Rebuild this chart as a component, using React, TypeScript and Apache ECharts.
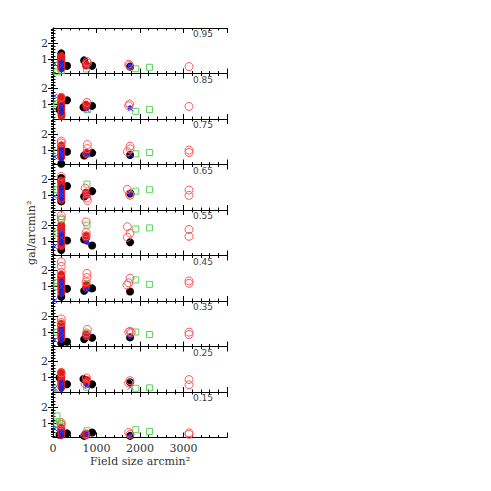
import React, { useEffect, useRef } from "react";
import * as echarts from "echarts";

const panelLabels = ["0.95", "0.85", "0.75", "0.65", "0.55", "0.45", "0.35", "0.25", "0.15"];
const xTickLabels = [0, 1000, 2000, 3000];
const yTickLabels = [1, 2];
const xTitle = "Field size arcmin\u00b2";
const yTitle = "gal/arcmin\u00b2";

type P = [number, number][];

const blackPts: P[] = [
  [[190, 1.36], [190, 1.14], [323, 0.58], [716, 0.92], [900, 0.58], [1771, 0.53], [200, 0.6]],
  [[323, 1.27], [150, 0.7], [700, 0.84], [900, 0.92]],
  [[190, 0.15], [323, 0.9], [716, 0.66], [900, 0.83], [1771, 0.7]],
  [[190, 2.1], [323, 1.6], [190, 0.64], [716, 0.95], [900, 1.28], [1780, 1.13]],
  [[323, 1.04], [190, 0.45], [716, 1.1], [900, 0.73], [1771, 0.93]],
  [[323, 0.87], [190, 0.37], [716, 0.74], [900, 0.89], [1771, 0.7]],
  [[323, 0.4], [190, 0.3], [716, 0.56], [900, 0.65], [1771, 0.67]],
  [[150, 1.01], [323, 0.59], [700, 0.91], [900, 0.58], [1771, 0.71]],
  [[323, 0.36], [150, 0.27], [716, 0.2], [900, 0.41], [1771, 0.2]],
];

const redFillPts: P[] = [
  [[190, 1.2], [190, 1.05], [190, 0.9], [190, 0.75], [190, 0.6], [195, 0.45], [750, 0.7], [760, 0.6]],
  [[190, 1.48], [190, 1.3], [190, 1.15], [190, 1.0], [190, 0.85], [190, 0.7], [190, 0.5], [195, 0.32], [760, 1.0], [770, 0.85]],
  [[190, 1.3], [190, 1.15], [190, 1.0], [190, 0.85], [190, 0.7], [190, 0.55], [770, 0.83], [760, 0.75]],
  [[190, 1.95], [190, 1.8], [190, 1.6], [190, 1.45], [190, 1.3], [190, 1.1], [190, 0.9], [190, 0.75], [760, 1.2], [770, 1.05]],
  [[190, 2.0], [190, 1.85], [190, 1.7], [190, 1.5], [190, 1.3], [190, 1.1], [190, 0.9], [190, 0.7], [760, 1.2], [770, 1.35]],
  [[190, 1.75], [190, 1.6], [190, 1.45], [190, 1.3], [190, 1.15], [190, 1.0], [190, 0.8], [190, 0.6], [770, 1.1], [760, 0.95]],
  [[190, 1.5], [190, 1.35], [190, 1.2], [190, 1.05], [190, 0.9], [190, 0.75], [190, 0.6], [760, 0.85], [770, 0.75]],
  [[190, 1.35], [190, 1.2], [190, 1.05], [190, 0.9], [190, 0.75], [190, 0.6], [195, 0.4], [770, 0.71], [780, 0.85]],
  [[190, 0.7], [190, 0.55], [190, 0.4], [190, 0.25], [760, 0.35], [770, 0.25]],
];

const redOpenPts: P[] = [
  [[794, 0.75], [780, 0.85], [1740, 0.68], [1760, 0.6], [3127, 0.53]],
  [[190, 1.45], [780, 1.14], [1740, 0.92], [1760, 1.04], [3127, 0.89]],
  [[190, 1.57], [190, 1.45], [790, 1.35], [790, 1.1], [1710, 0.9], [1771, 1.08], [1771, 1.25], [3127, 1.0], [3127, 0.85]],
  [[190, 2.2], [740, 1.47], [790, 0.7], [780, 0.85], [1710, 1.39], [1771, 1.02], [1760, 1.1], [3127, 1.35], [3127, 1.02]],
  [[190, 2.6], [190, 2.4], [760, 2.2], [760, 1.53], [760, 1.33], [1710, 1.9], [1771, 1.5], [1710, 1.24], [3127, 1.73], [3127, 1.3]],
  [[190, 2.55], [190, 2.27], [190, 1.9], [780, 1.83], [780, 1.57], [760, 1.3], [1771, 1.53], [1740, 1.24], [1700, 1.1], [3127, 1.36], [3127, 1.21]],
  [[190, 1.83], [190, 1.6], [790, 1.17], [770, 0.95], [1740, 1.0], [1771, 1.05], [1800, 0.98], [3127, 1.0], [3127, 0.85]],
  [[190, 1.3], [770, 0.98], [740, 0.61], [1771, 0.81], [1740, 0.66], [3127, 0.88], [3127, 0.55]],
  [[190, 1.02], [190, 0.9], [740, 0.3], [1740, 0.42], [1771, 0.3], [3127, 0.39], [3127, 0.3]],
];

const greenSqPts: P[] = [
  [[92, 0.2], [170, 0.4], [200, 0.3], [770, 0.38], [1903, 0.4], [2217, 0.49]],
  [[92, 1.06], [80, 0.9], [190, 0.6], [200, 0.3], [790, 0.7], [1903, 0.58], [2217, 0.69]],
  [[92, 0.84], [190, 1.2], [780, 0.75], [1903, 0.77], [2217, 0.85]],
  [[92, 1.37], [190, 2.0], [190, 1.7], [780, 1.72], [1903, 1.28], [2217, 1.37]],
  [[92, 1.5], [190, 2.35], [190, 2.15], [780, 2.0], [1903, 1.76], [2217, 1.83]],
  [[92, 1.24], [92, 1.0], [190, 1.5], [780, 1.2], [1903, 1.42], [2217, 1.14]],
  [[92, 1.0], [190, 1.55], [190, 1.3], [780, 0.9], [1903, 1.01], [2217, 0.85]],
  [[92, 0.33], [190, 0.5], [770, 0.41], [1903, 0.33], [2217, 0.36]],
  [[92, 1.45], [92, 0.9], [150, 1.1], [190, 0.95], [190, 0.8], [190, 0.6], [780, 0.52], [1903, 0.59], [2217, 0.48]],
];

const blueXPts: P[] = [
  [[40, 0.71], [200, 0.6], [790, 0.55], [1780, 0.55]],
  [[40, 1.54], [200, 0.9], [790, 0.66], [1780, 0.74]],
  [[40, 0.58], [190, 0.9], [200, 0.7], [790, 0.7], [1780, 0.72]],
  [[40, 0.96], [190, 1.2], [200, 1.0], [790, 1.0]],
  [[40, 0.67], [190, 1.6], [200, 1.2], [790, 1.0]],
  [[40, 0.12], [190, 1.3], [200, 1.0], [790, 0.8]],
  [[40, 0.5], [190, 1.1], [200, 0.8], [790, 0.75]],
  [[40, 0.33], [200, 0.6], [790, 0.45], [1780, 0.41]],
  [[40, 0.65], [200, 0.5], [790, 0.3]],
];

const blueFillPts: P[] = [
  [[195, 0.8], [195, 0.65], [195, 0.5], [200, 0.35], [1770, 0.58]],
  [[195, 0.95], [195, 0.8], [195, 0.65], [195, 0.5], [1770, 0.8]],
  [[195, 1.1], [195, 0.95], [195, 0.8], [195, 0.65], [195, 0.45], [780, 0.78]],
  [[195, 1.55], [195, 1.4], [195, 1.25], [195, 1.1], [195, 0.95], [195, 0.8], [1780, 1.1]],
  [[195, 1.45], [195, 1.3], [195, 1.15], [195, 1.0], [195, 0.85], [780, 0.93]],
  [[195, 1.35], [195, 1.2], [195, 1.05], [195, 0.9], [195, 0.7], [195, 0.5], [780, 0.8]],
  [[195, 1.25], [195, 1.1], [195, 0.95], [195, 0.8], [195, 0.6], [195, 0.45], [1771, 0.7]],
  [[195, 0.7], [195, 0.55], [195, 0.41], [195, 0.25], [780, 0.5]],
  [[195, 0.45], [195, 0.3], [195, 0.2], [780, 0.3], [1771, 0.22]],
];

const LEFT = 53;
const PLOT_W = 174;
const TOP = 28;
const PANEL_H = 45.5;
const X_MIN = 0;
const X_MAX = 4000;
const Y_MIN = 0.1;
const Y_MAX = 2.95;
const FONT = "DejaVu Serif";
const TXT = "#333";

const range = (a: number, b: number, s: number) => {
  const out: number[] = [];
  for (let v = a; v <= b + 1e-9; v += s) out.push(Math.round(v * 100) / 100);
  return out;
};

export default function App() {
  const ref = useRef<HTMLDivElement>(null);
  useEffect(() => {
    if (!ref.current) return;
    const chart = echarts.init(ref.current, null, { renderer: "svg" });
    const n = panelLabels.length;
    const grids: any[] = [];
    const xAxes: any[] = [];
    const yAxes: any[] = [];
    const series: any[] = [];
    const graphics: any[] = [];
    const line = { show: true, lineStyle: { color: "#000", width: 1 } };
    const noLine = { show: false };
    const xMajor = range(0, 4000, 1000);
    const xMinor = range(200, 3800, 200).filter((v) => v % 1000 !== 0);
    const yMinorL = range(0.2, 2.8, 0.2).filter((v) => v !== 1 && v !== 2);
    const yMinorR = range(0.2, 2.9, 0.1).filter((v) => v !== 1 && v !== 2);
    for (let i = 0; i < n; i++) {
      const top = TOP + i * PANEL_H;
      grids.push({ left: LEFT, width: PLOT_W, top, height: PANEL_H });
      const last = i === n - 1;
      const xBase = {
        type: "value",
        gridIndex: i,
        min: X_MIN,
        max: X_MAX,
        interval: 1000,
        splitLine: { show: false },
      };
      const tick = (vals: number[], len: number) => ({
        show: true,
        inside: true,
        length: len,
        customValues: vals,
        lineStyle: { color: "#000", width: 1 },
      });
      xAxes.push({
        ...xBase,
        position: "bottom",
        axisLine: line,
        axisTick: tick(xMajor, 5),
        axisLabel: {
          show: last,
          customValues: xTickLabels,
          formatter: (v: number) => String(v),
          fontFamily: FONT,
          fontSize: 11,
          color: TXT,
          margin: 5,
        },
      });
      xAxes.push({ ...xBase, position: "bottom", axisLine: noLine, axisTick: tick(xMinor, 2.5), axisLabel: { show: false } });
      xAxes.push({ ...xBase, position: "top", axisLine: line, axisTick: tick(xMajor, 5), axisLabel: { show: false } });
      xAxes.push({ ...xBase, position: "top", axisLine: noLine, axisTick: tick(xMinor, 2.5), axisLabel: { show: false } });
      const yBase = {
        type: "value",
        gridIndex: i,
        min: Y_MIN,
        max: Y_MAX,
        splitLine: { show: false },
      };
      yAxes.push({
        ...yBase,
        position: "left",
        axisLine: line,
        axisTick: tick(yTickLabels, 5),
        axisLabel: { show: true, customValues: yTickLabels, fontFamily: FONT, fontSize: 11, color: TXT, margin: 5 },
      });
      yAxes.push({ ...yBase, position: "left", axisLine: noLine, axisTick: tick(yMinorL, 2.5), axisLabel: { show: false } });
      yAxes.push({ ...yBase, position: "right", axisLine: line, axisTick: tick(yTickLabels, 5), axisLabel: { show: false } });
      yAxes.push({ ...yBase, position: "right", axisLine: noLine, axisTick: tick(yMinorR, 2), axisLabel: { show: false } });
      const xi = i * 4;
      const yi = i * 4;
      const base = { type: "scatter", xAxisIndex: xi, yAxisIndex: yi, silent: true };
      series.push({
        ...base,
        data: greenSqPts[i],
        symbol: "rect",
        symbolSize: 6,
        itemStyle: { color: "rgba(0,0,0,0)", borderColor: "#5cd65c", borderWidth: 1, opacity: 1 },
      });
      series.push({ ...base, data: blackPts[i], symbol: "circle", symbolSize: 8, itemStyle: { color: "#000", opacity: 1 } });
      series.push({ ...base, data: redFillPts[i], symbol: "circle", symbolSize: 8, itemStyle: { color: "#e61a1a", opacity: 1 } });
      series.push({ ...base, data: blueFillPts[i], symbol: "circle", symbolSize: 5, itemStyle: { color: "#2222c8", opacity: 1 } });
      series.push({
        ...base,
        data: blueXPts[i],
        symbol: "path://M0,0L10,10M10,0L0,10",
        symbolSize: 5,
        itemStyle: { color: "rgba(0,0,0,0)", borderColor: "#3a3aff", borderWidth: 1, opacity: 1 },
      });
      series.push({
        ...base,
        data: redOpenPts[i],
        symbol: "circle",
        symbolSize: 8,
        itemStyle: { color: "rgba(0,0,0,0)", borderColor: "#ff5a5a", borderWidth: 1, opacity: 1 },
      });
      graphics.push({
        type: "text",
        x: 193,
        y: top + 6,
        style: { text: panelLabels[i], fontFamily: "DejaVu Sans", fontSize: 9, fill: "#444", textVerticalAlign: "middle" },
      });
    }
    graphics.push({
      type: "text",
      x: LEFT + PLOT_W / 2,
      y: 461,
      style: { text: xTitle, fontFamily: FONT, fontSize: 11, fill: TXT, textAlign: "center", textVerticalAlign: "middle" },
    });
    graphics.push({
      type: "text",
      x: 31,
      y: TOP + (PANEL_H * n) / 2,
      rotation: Math.PI / 2,
      style: { text: yTitle, fontFamily: FONT, fontSize: 11, fill: TXT, textAlign: "center", textVerticalAlign: "middle" },
    });
    chart.setOption({
      animation: false,
      backgroundColor: "#fff",
      grid: grids,
      xAxis: xAxes,
      yAxis: yAxes,
      series,
      graphic: graphics,
    });
    return () => chart.dispose();
  }, []);
  return <div ref={ref} style={{ position: "fixed", left: 0, top: 0, width: 491, height: 491 }} />;
}
